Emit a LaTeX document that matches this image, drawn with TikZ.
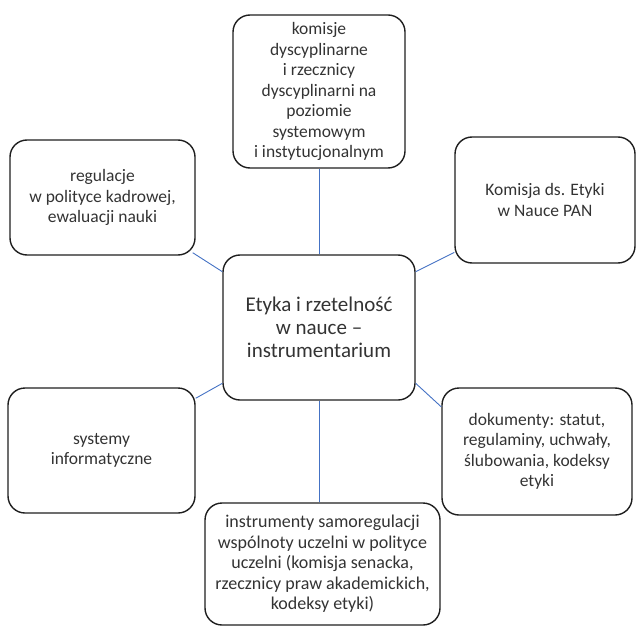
\documentclass[tikz,border=0pt]{standalone}
\usepackage{fontspec}
\setmainfont{Carlito}
\definecolor{txt}{HTML}{333333}
\definecolor{edge}{HTML}{1E1E1E}
\definecolor{conn}{HTML}{4472C4}
\begin{document}
\begin{tikzpicture}[x=1bp,y=-1bp,
  box/.style={draw=edge, line width=1.4bp, rounded corners=17bp, align=center,
    inner sep=0pt, text=txt, font=\fontsize{17.5bp}{20.5bp}\selectfont},
  hub/.style={box, font=\fontsize{21bp}{23bp}\selectfont},
  link/.style={draw=conn, line width=0.9bp}]
\useasboundingbox (0,0) rectangle (637,627);
\node[hub, minimum width=192bp, minimum height=145bp] (c) at (319,327.5)
  {Etyka i rzetelność\\w nauce –\\instrumentarium};
\node[box, minimum width=172bp, minimum height=153bp] (top) at (319,91.5)
  {komisje\\dyscyplinarne\\i rzecznicy\\dyscyplinarni na\\poziomie\\systemowym\\i instytucjonalnym};
\node[box, minimum width=185bp, minimum height=115bp] (lt) at (102.5,197.5)
  {regulacje\\w polityce kadrowej,\\ewaluacji nauki};
\node[box, minimum width=180bp, minimum height=126bp] (rt) at (545,200)
  {Komisja ds. Etyki\\w Nauce PAN};
\node[box, minimum width=187bp, minimum height=125bp] (lb) at (101.5,450.5)
  {systemy\\informatyczne};
\node[box, minimum width=190bp, minimum height=127bp] (rb) at (537,451.5)
  {dokumenty: statut,\\regulaminy, uchwały,\\ślubowania, kodeksy\\etyki};
\node[box, minimum width=235bp, minimum height=122bp,
  font=\fontsize{18bp}{20.5bp}\selectfont] (bot) at (322.5,564)
  {instrumenty samoregulacji\\wspólnoty uczelni w polityce\\uczelni (komisja senacka,\\rzecznicy praw akademickich,\\kodeksy etyki)};
\draw[link, line width=1.1bp] ([xshift=0.5bp]c.north) -- ([xshift=0.5bp]top.south);
\draw[link, line width=1.1bp] ([xshift=0.5bp]c.south) -- ([xshift=0.5bp]c.south |- bot.north);
\draw[link] (c.150) -- ([xshift=-3bp,yshift=3bp]lt.south east);
\draw[link] (c.30) -- (rt.210);
\draw[link] (c.210) -- (lb.29);
\draw[link] (c.330) -- (rb.155);
\end{tikzpicture}
\end{document}
